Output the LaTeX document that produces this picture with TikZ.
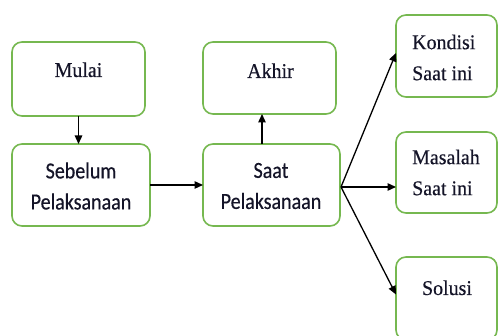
\documentclass[tikz,border=0pt]{standalone}
\usepackage{fontspec}
\setmainfont{Liberation Serif}
\newfontfamily\boxserif[FakeStretch=0.95,FakeBold=0.4]{Liberation Serif}
\newfontfamily\boxsans[FakeStretch=0.87,FakeBold=0.4]{Carlito}
\usetikzlibrary{arrows.meta}
\definecolor{boxgreen}{RGB}{118,184,80}
\definecolor{inktext}{RGB}{20,20,40}
\begin{document}
\begin{tikzpicture}[x=1pt,y=-1pt,
  box/.style={draw=boxgreen, line width=1.6pt, rounded corners=10pt, inner sep=0pt, outer sep=0pt, fill=white},
  arr/.style={draw=black, line width=1.3pt, -{Triangle[length=8.5pt,width=7.5pt]}},
  serif/.style={inner sep=0pt, text=inktext, font=\boxserif\fontsize{21}{31}\selectfont},
  sans/.style={inner sep=0pt, align=center, text=inktext, font=\boxsans\fontsize{23}{31}\selectfont}]
\useasboundingbox (0,0) rectangle (498,336);
% boxes
\node[box, minimum width=133pt, minimum height=74pt] (mulai) at (78.5,79) {};
\node[box, minimum width=138pt, minimum height=82pt] (sebelum) at (81,185) {};
\node[box, minimum width=133pt, minimum height=72pt] (akhir) at (269.5,78) {};
\node[box, minimum width=137pt, minimum height=82pt] (saat) at (271.5,185) {};
\node[box, minimum width=101pt, minimum height=82pt] (kondisi) at (446.5,56) {};
\node[box, minimum width=101pt, minimum height=81pt] (masalah) at (446.5,172.5) {};
\node[box, minimum width=101pt, minimum height=83pt] (solusi) at (446.5,298.5) {};
% texts
\node[serif, anchor=base] (tmulai) at (78.5,77) {Mulai};
\node[serif, anchor=base] (takhir) at (270.5,78) {Akhir};
\node[serif, anchor=base] (tsolusi) at (447,295) {Solusi};
\node[sans] (tsebelum) at (81,186) {Sebelum\\Pelaksanaan};
\node[sans] (tsaat) at (271,186) {Saat\\Pelaksanaan};
\node[serif, anchor=west, align=left] (tkondisi) at (412,57.5) {Kondisi\\Saat ini};
\node[serif, anchor=west, align=left] (tmasalah) at (412,172.5) {Masalah\\Saat ini};
% connectors
\draw[arr] (mulai.south) -- (mulai.south |- sebelum.north);
\draw[arr] (sebelum.east) -- (sebelum.east -| saat.west);
\draw[arr] ([xshift=-9.5pt]saat.north) -- ([xshift=-9.5pt]saat.north |- akhir.south);
\coordinate (fan) at ([xshift=1pt,yshift=-2pt]saat.east);
\draw[arr] (fan) -- ([yshift=3pt]kondisi.west);
\draw[arr] (fan) -- (fan -| masalah.west);
\draw[arr] (fan) -- ([yshift=4pt]solusi.west);
\end{tikzpicture}
\end{document}
